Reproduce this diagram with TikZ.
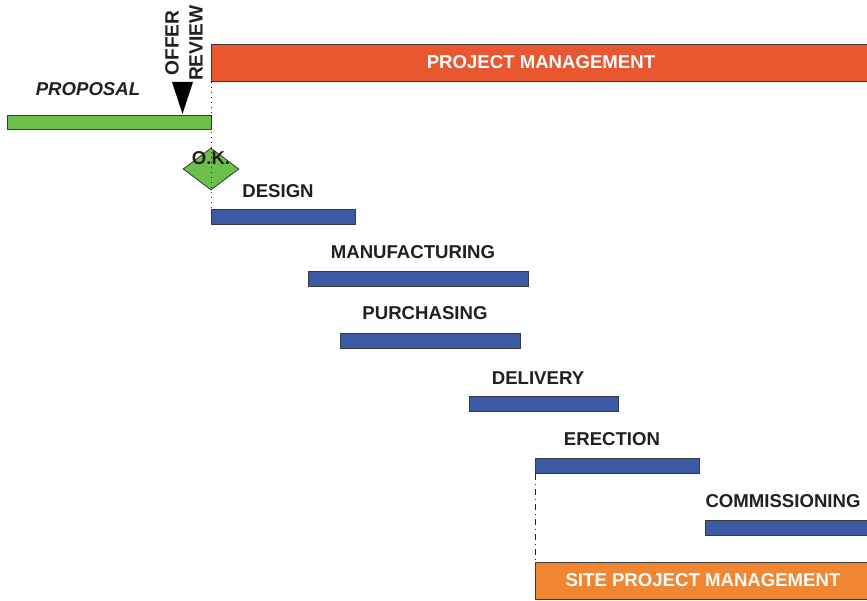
\documentclass[tikz,border=0pt]{standalone}
\usepackage{fontspec}
\setmainfont{Liberation Sans}
\usetikzlibrary{positioning,shapes.geometric}
\definecolor{ink}{HTML}{231F20}
\definecolor{edge}{HTML}{3A3A3A}
\definecolor{pmred}{HTML}{E95730}
\definecolor{siteorange}{HTML}{F08532}
\definecolor{propgreen}{HTML}{6CBF4B}
\definecolor{taskblue}{HTML}{3D5AA5}
\tikzset{
  bar/.style={draw=edge,line width=.6pt,inner sep=0pt,anchor=north west},
  task/.style={bar,fill=taskblue,minimum height=7.5pt},
  band/.style={bar,fill=#1,minimum height=18.5pt,text=white,font=\bfseries\fontsize{9.3}{11}\selectfont},
  label/.style={font=\bfseries\fontsize{9.3}{11}\selectfont,text=ink},
  guide/.style={line width=.5pt,dotted,color=ink},
}
\begin{document}
\begin{tikzpicture}[x=.5pt,y=-.5pt]
  \useasboundingbox (0,0) rectangle (867,600);

  % management bands
  \node[band=pmred,minimum width=330pt] (pm) at (211,44) {};
  \node[label,text=white] (pmtext) at (541,62) {PROJECT MANAGEMENT};
  \node[band=siteorange,minimum width=170pt] (site) at (535,562) {};
  \node[label,text=white] (sitetext) at (703,580) {SITE PROJECT MANAGEMENT};

  % proposal phase
  \node[bar,fill=propgreen,minimum width=102pt,minimum height=7pt] (proposal) at (7,115) {};
  \node[label,font=\bfseries\itshape\fontsize{9.3}{11}\selectfont] (proptext) at (88,89) {PROPOSAL};
  \node[fill=black,isosceles triangle,isosceles triangle stretches,shape border rotate=270,
        minimum width=10.5pt,minimum height=16pt,inner sep=0pt,anchor=apex] (review) at (182.5,115) {};
  \node[label,rotate=90,align=center,font=\bfseries\fontsize{9.6}{12}\selectfont] (reviewtext) at (184,43) {OFFER\\REVIEW};
  \node[diamond,draw=edge,fill=propgreen,line width=.4pt,minimum width=28pt,minimum height=21pt,inner sep=0pt] (ok) at (211,169) {};
  \node[label] (oktext) at (211,158) {O.K.};

  % tasks
  \node[task,minimum width=72pt] (design) at (211,209) {};
  \node[label] (designtext) at (278,191) {DESIGN};
  \node[task,minimum width=110pt] (manuf) at (308,271) {};
  \node[label] (manuftext) at (413,252) {MANUFACTURING};
  \node[task,minimum width=90pt] (purch) at (340,333) {};
  \node[label] (purchtext) at (425,313) {PURCHASING};
  \node[task,minimum width=74.5pt] (deliv) at (469,396) {};
  \node[label] (delivtext) at (538,378) {DELIVERY};
  \node[task,minimum width=82pt] (erect) at (535,458) {};
  \node[label] (erecttext) at (612,439) {ERECTION};
  \node[task,minimum width=81pt] (comm) at (705,520) {};
  \node[label] (commtext) at (783,501) {COMMISSIONING};

  % milestones
  \draw[guide] (pm.south west) -- (design.north west);
  \draw[guide,dash dot] (erect.south west) -- (site.north west);
\end{tikzpicture}
\end{document}
